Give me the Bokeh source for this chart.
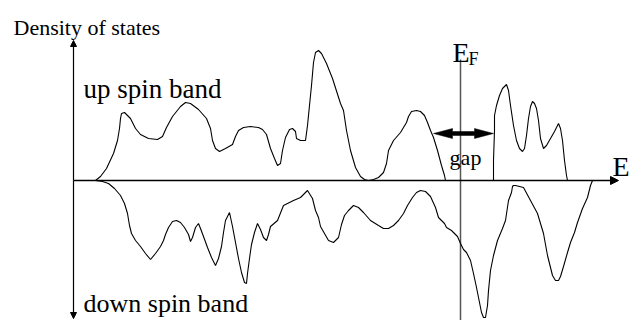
from bokeh.plotting import figure
from bokeh.models import Range1d, Arrow, NormalHead
from bokeh.core.properties import value
from bokeh.embed import file_html
from bokeh.resources import INLINE

# Energy (arbitrary units) and density of states (arbitrary units, + up spin, - down spin)
up1_E = [22, 27, 33, 40, 44, 46, 47, 48, 51, 57, 62, 67, 75, 84, 89, 93, 99, 107, 112, 117,
         125, 133, 137, 139, 142, 146, 152, 159, 162, 165, 170, 177, 185, 189, 193, 197, 201,
         204, 207, 209, 212, 216, 219, 222, 223, 227, 232, 234, 236, 238, 240, 242, 245, 248,
         253, 259, 267, 270, 273, 277, 282, 287, 291, 295, 300, 305, 310, 313, 315, 320, 327,
         330, 333, 335, 338, 343, 347, 351, 354, 357, 360, 364, 368, 371, 372]
up1_D = [0, 4, 12, 27, 40, 52, 62, 67, 68, 62, 52, 46, 42, 41, 44, 53, 64, 74, 78, 77,
         71, 62, 52, 40, 32, 29, 32, 36, 44, 50, 53, 54, 53, 51, 46, 32, 22, 15, 17, 30,
         43, 51, 52, 49, 42, 40, 40, 55, 75, 95, 118, 128, 130, 127, 117, 102, 77, 70,
         50, 30, 13, 4, 1, 0, 1, 3, 8, 17, 30, 40, 48, 53, 58, 64, 69, 70, 69, 65, 58,
         50, 43, 30, 15, 5, 0]
up2_E = [420, 420, 421, 421, 423, 426, 429, 433, 435, 437, 440, 443, 446, 449, 451, 453,
         455, 457, 459, 461, 463, 465, 467, 470, 473, 477, 481, 485, 487, 489, 491, 493, 494]
up2_D = [0, 20, 50, 65, 75, 85, 92, 96, 90, 75, 55, 40, 32, 29, 32, 45, 62, 74, 79, 77,
         72, 60, 42, 32, 35, 42, 49, 57, 52, 40, 20, 5, 0]
dn_E = [22, 29, 35, 41, 47, 51, 54, 56, 58, 62, 67, 72, 77, 82, 87, 90, 92, 95, 99, 103,
        107, 111, 115, 117, 119, 122, 125, 127, 130, 134, 138, 142, 145, 148, 150, 152,
        156, 159, 162, 165, 168, 171, 173, 174, 176, 178, 181, 184, 187, 190, 193, 195,
        197, 204, 210, 220, 227, 234, 239, 242, 245, 247, 251, 255, 260, 265, 268, 271,
        275, 280, 285, 290, 297, 305, 310, 315, 320, 325, 330, 334, 339, 343, 347, 352,
        357, 362, 365, 368, 371, 373, 378, 384, 387, 390, 393, 397, 400, 403, 406, 408,
        410, 412, 414, 415, 417, 420, 424, 429, 432, 435, 438, 439, 440, 442, 450, 457,
        464, 470, 474, 479, 482, 485, 487, 490, 494, 497, 501, 504, 509, 514, 517, 519, 519]
dn_D = [0, -1, -3, -8, -15, -23, -33, -45, -53, -60, -66, -73, -79, -73, -66, -60, -54,
        -47, -41, -40, -42, -47, -54, -61, -57, -47, -43, -48, -56, -67, -77, -85, -78,
        -66, -52, -40, -32, -46, -62, -78, -92, -102, -103, -93, -78, -64, -52, -43, -49,
        -57, -60, -54, -46, -40, -25, -20, -17, -10, -18, -30, -37, -46, -53, -60, -62,
        -57, -44, -35, -30, -25, -27, -32, -40, -45, -48, -48, -45, -40, -33, -25, -17,
        -12, -10, -11, -16, -27, -37, -40, -43, -47, -50, -56, -63, -69, -72, -80, -93,
        -107, -122, -132, -137, -137, -125, -110, -90, -75, -60, -48, -40, -20, -12, -6,
        -5, -5, -7, -20, -33, -53, -75, -95, -100, -100, -96, -86, -72, -62, -52, -42,
        -28, -17, -5, 0]

axis_E_max = [545]
axis_D_top = [140]
axis_D_bottom = [-138]
fermi_E = [387]
fermi_D_top = [121]
gap_left = [360]
gap_right = [420]
gap_level = [47]

SERIF = value("Liberation Serif")

p = figure(width=639, height=320, x_range=Range1d(-73, 566), y_range=Range1d(-140, 180),
           output_backend="svg", toolbar_location=None, min_border=0,
           x_axis_type=None, y_axis_type=None)
p.grid.visible = False
p.outline_line_color = None
p.background_fill_color = "white"
p.border_fill_color = "white"

# Fermi level line
p.segment(x0=fermi_E, y0=fermi_D_top, x1=fermi_E, y1=[-145], line_color="#555555", line_width=1.5)

# axes with arrows
p.add_layout(Arrow(x_start=0, y_start=0, x_end=axis_E_max[0], y_end=0, line_width=1.5,
                   line_color="black", end=NormalHead(size=8, fill_color="black", line_color="black")))
p.add_layout(Arrow(x_start=0, y_start=0, x_end=0, y_end=axis_D_top[0], line_width=1.2,
                   line_color="black", end=NormalHead(size=6, fill_color="black", line_color="black")))
p.add_layout(Arrow(x_start=0, y_start=0, x_end=0, y_end=axis_D_bottom[0], line_width=1.2,
                   line_color="black", end=NormalHead(size=6, fill_color="black", line_color="black")))

# DOS curves
p.line(up1_E, up1_D, line_color="black", line_width=1.1)
p.line(up2_E, up2_D, line_color="black", line_width=1.1)
p.line(dn_E, dn_D, line_color="black", line_width=1.1)

# gap double arrow (elongated heads)
HL, HW, ST = 19, 5.0, 2.0
x0, x1, y = gap_left[0], gap_right[0], gap_level[0]
gx = [x0, x0 + HL, x0 + HL, x1 - HL, x1 - HL, x1, x1 - HL, x1 - HL, x0 + HL, x0 + HL]
gy = [y, y + HW, y + ST, y + ST, y + HW, y, y - HW, y - ST, y - ST, y - HW]
p.patch(gx, gy, fill_color="black", line_color="black", line_width=0.5)

# texts
p.text(x=[-60], y=[153], text=["Density of states"], text_font=SERIF, text_font_size="22px",
       text_baseline="alphabetic", text_align="left", text_color="black")
p.text(x=[10], y=[92], text=["up spin band"], text_font=SERIF, text_font_size="27px",
       text_baseline="alphabetic", text_align="left", text_color="black")
p.text(x=[10], y=[-123], text=["down spin band"], text_font=SERIF, text_font_size="26px",
       text_baseline="alphabetic", text_align="left", text_color="black")
p.text(x=[379], y=[128], text=["E"], text_font=SERIF, text_font_size="28px",
       text_baseline="alphabetic", text_align="left", text_color="black")
p.text(x=[395], y=[122], text=["F"], text_font=SERIF, text_font_size="18px",
       text_baseline="alphabetic", text_align="left", text_color="black")
p.text(x=[539], y=[14], text=["E"], text_font=SERIF, text_font_size="28px",
       text_baseline="alphabetic", text_align="left", text_color="black")
p.text(x=[392], y=[23], text=["gap"], text_font=SERIF, text_font_size="22px",
       text_baseline="alphabetic", text_align="center", text_color="black")

open("out.html", "w").write(file_html(p, INLINE))
